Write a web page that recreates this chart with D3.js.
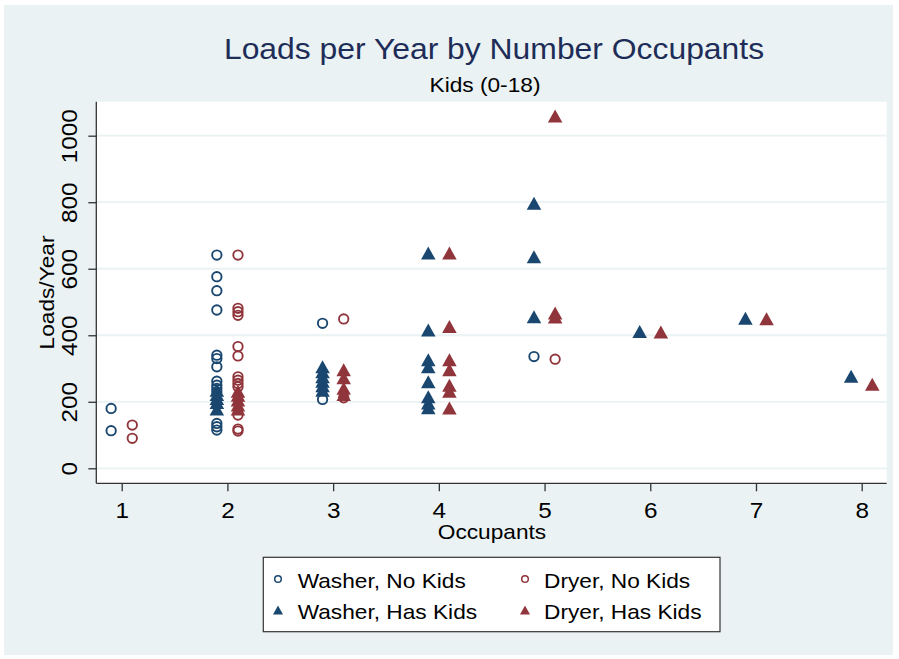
<!DOCTYPE html>
<html><head><meta charset="utf-8">
<script src="https://cdn.jsdelivr.net/npm/d3@7"></script>
<style>body{margin:0;background:#fff}svg{display:block}text{font-family:"Liberation Sans",Arial,sans-serif}</style>
</head><body><svg id="c" width="899" height="659"></svg>
<script>
// ---- data (occupants, loads/year) ----
const xTicks = [1,2,3,4,5,6,7,8];
const yTicks = [0,200,400,600,800,1000];
const seriesNames = ["Washer, No Kids","Dryer, No Kids","Washer, Has Kids","Dryer, Has Kids"];
const washerNoKids = [[1,180],[1,113],
  [2,641],[2,576],[2,534],[2,476],[2,340],[2,330],[2,305],[2,262],[2,250],[2,240],[2,230],[2,135],[2,125],[2,115],
  [3,436],[3,207],[5,336]];
const dryerNoKids = [[1,130],[1,90],
  [2,641],[2,481],[2,471],[2,460],[2,366],[2,338],[2,275],[2,265],[2,255],[2,245],[2,160],[2,118],[2,112],
  [3,449],[3,212],[5,328]];
const washerHasKids = [[2,235],[2,222],[2,210],[2,198],[2,178],
  [3,305],[3,290],[3,275],[3,262],[3,248],[3,235],
  [4,647],[4,416],[4,326],[4,305],[4,260],[4,215],[4,196],[4,182],
  [5,797],[5,636],[5,456],[6,411],[7,451],[8,277]];
const dryerHasKids = [[2,232],[2,220],[2,205],[2,190],[2,178],
  [3,296],[3,272],[3,241],[3,222],
  [4,647],[4,426],[4,326],[4,296],[4,250],[4,232],[4,181],
  [5,1059],[5,467],[5,455],[6,410],[7,450],[8,253]];

const NAVY = "#1a476f", MAROON = "#90353b", BG = "#eaf2f3";
const WIDEN = 1.08;
const svg = d3.select("#c");

function widen(sel){
  sel.each(function(){
    const L = this.getComputedTextLength();
    d3.select(this).attr("textLength", L*WIDEN).attr("lengthAdjust","spacingAndGlyphs");
  });
  return sel;
}

svg.append("rect").attr("x",4).attr("y",5).attr("width",889).attr("height",650).attr("fill",BG);

const P = {l:96.3, r:886.7, t:101.7, b:483.3};
svg.append("rect").attr("x",P.l).attr("y",P.t).attr("width",P.r-P.l).attr("height",P.b-P.t).attr("fill","#fff");

const x = d3.scaleLinear().domain([1,8]).range([121.7,861.7]);
const y = d3.scaleLinear().domain([0,1000]).range([468.3,135.7]);

// grid
svg.append("g").selectAll("line").data(yTicks).join("line")
  .attr("x1",P.l).attr("x2",P.r).attr("y1",d=>y(d)).attr("y2",d=>y(d))
  .attr("stroke",BG).attr("stroke-width",1.8);

// axes
const ya = svg.append("g").attr("transform",`translate(${P.l},0)`)
  .call(d3.axisLeft(y).tickValues(yTicks).tickSize(8).tickPadding(0).tickFormat(d3.format("d")));
ya.select(".domain").attr("d",`M0,${P.t}V${P.b}`).attr("stroke","#333").attr("stroke-width",1.3);
ya.selectAll(".tick line").attr("stroke","#333").attr("stroke-width",1.3);
ya.selectAll(".tick text").attr("x",0).attr("dy",null).attr("text-anchor","middle")
  .attr("font-size",22.5).attr("fill","#000")
  .attr("transform","translate(-19.5,0) rotate(-90)").attr("y",0);
widen(ya.selectAll(".tick text"));

const xa = svg.append("g").attr("transform",`translate(0,${P.b})`)
  .call(d3.axisBottom(x).tickValues(xTicks).tickSize(8).tickFormat(d3.format("d")));
xa.select(".domain").attr("d",`M${P.l},0H${P.r}`).attr("stroke","#333").attr("stroke-width",1.3);
xa.selectAll(".tick line").attr("stroke","#333").attr("stroke-width",1.3);
xa.selectAll(".tick text").attr("y",35).attr("dy",null).attr("font-size",22.5).attr("fill","#000");
widen(xa.selectAll(".tick text"));

// axis titles
widen(svg.append("text").attr("x",492).attr("y",538.5).attr("text-anchor","middle")
  .attr("font-size",21).text("Occupants"));
widen(svg.append("text").attr("transform",`translate(53.5,${(P.t+P.b)/2}) rotate(-90)`)
  .attr("text-anchor","middle").attr("font-size",21).text("Loads/Year"));

// titles
widen(svg.append("text").attr("x",494).attr("y",58.5).attr("text-anchor","middle")
  .attr("font-size",29.5).attr("fill","#1e2d58").text("Loads per Year by Number Occupants"));
widen(svg.append("text").attr("x",485).attr("y",91.5).attr("text-anchor","middle")
  .attr("font-size",21).attr("fill","#000").text("Kids (0-18)"));

// markers
const tri = (w,h)=>`M0,${-h/2}L${w/2},${h/2}L${-w/2},${h/2}Z`;
const OFF = 0.1;
function circles(data, dx, color){
  svg.append("g").selectAll("circle").data(data).join("circle")
    .attr("cx",d=>x(d[0]+dx)).attr("cy",d=>y(d[1])).attr("r",4.7)
    .attr("fill","none").attr("stroke",color).attr("stroke-width",1.9);
}
function triangles(data, dx, color){
  svg.append("g").selectAll("path").data(data).join("path")
    .attr("transform",d=>`translate(${x(d[0]+dx)},${y(d[1])})`)
    .attr("d",tri(14.5,13)).attr("fill",color);
}
circles(washerNoKids,-OFF,NAVY);
circles(dryerNoKids,OFF,MAROON);
triangles(washerHasKids,-OFF,NAVY);
triangles(dryerHasKids,OFF,MAROON);

// legend
svg.append("rect").attr("x",263.3).attr("y",557.3).attr("width",456.7).attr("height",74.4)
  .attr("fill","#fff").attr("stroke","#333").attr("stroke-width",1.2);
const legItems = [
  {name:seriesNames[0],c:NAVY,t:"c",lx:278,ly:579,tx:297.7,ty:587.5},
  {name:seriesNames[1],c:MAROON,t:"c",lx:525,ly:579,tx:544,ty:587.5},
  {name:seriesNames[2],c:NAVY,t:"t",lx:278,ly:610,tx:297.7,ty:618.5},
  {name:seriesNames[3],c:MAROON,t:"t",lx:525,ly:610,tx:544,ty:618.5}
];
legItems.forEach(it=>{
  if(it.t==="c") svg.append("circle").attr("cx",it.lx).attr("cy",it.ly).attr("r",3.3)
    .attr("fill","none").attr("stroke",it.c).attr("stroke-width",1.5);
  else svg.append("path").attr("transform",`translate(${it.lx},${it.ly})`).attr("d",tri(10,9)).attr("fill",it.c);
  widen(svg.append("text").attr("x",it.tx).attr("y",it.ty).attr("font-size",21).attr("fill","#000").text(it.name));
});
</script></body></html>
